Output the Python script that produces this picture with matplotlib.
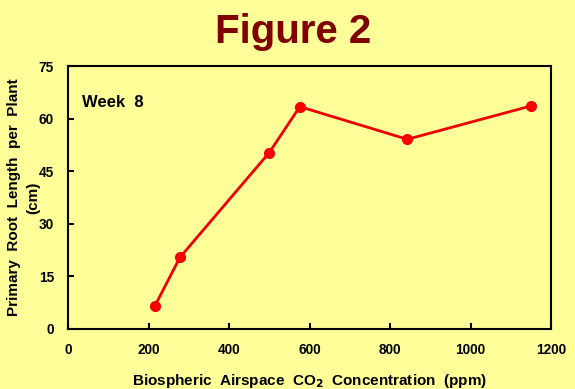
import matplotlib.pyplot as plt

plt.rcParams['font.family'] = ['Liberation Sans', 'DejaVu Sans']

# Data (week 8)
co2_ppm = [216, 278, 500, 576, 843, 1150]
root_length_cm = [6.6, 20.4, 50.3, 63.4, 54.1, 63.6]

x_ticks = [0, 200, 400, 600, 800, 1000, 1200]
y_ticks = [0, 15, 30, 45, 60, 75]

bg = '#FFFF99'

fig = plt.figure(figsize=(5.75, 3.89), dpi=100, facecolor=bg)
ax = fig.add_axes([68 / 575, 1 - 329 / 389, (551 - 68) / 575, (329 - 66) / 389])
ax.set_facecolor(bg)

ax.plot(co2_ppm, root_length_cm, color='#EE0000', lw=2, marker='o',
        markersize=7, markerfacecolor='#FF0000', markeredgecolor='#EE0000')

ax.set_xlim(0, 1200)
ax.set_ylim(0, 75)
ax.set_xticks(x_ticks)
ax.set_yticks(y_ticks)
ax.tick_params(direction='in', length=4, width=1.5, labelsize=9.8, pad=10, colors='black')
for lab in ax.get_xticklabels() + ax.get_yticklabels():
    lab.set_fontweight('bold')
for sp in ax.spines.values():
    sp.set_linewidth(1.5)

ax.set_xlabel('Biospheric  Airspace  CO$_\\mathbf{2}$  Concentration  (ppm)',
              fontsize=11, fontweight='bold', labelpad=11)
ax.set_ylabel('Primary  Root  Length  per  Plant\n(cm)', fontsize=11,
              fontweight='bold', linespacing=1.45)
ax.yaxis.set_label_coords(-0.058, 0.5)

ax.text(0.03, 0.86, 'Week  8', transform=ax.transAxes, fontsize=12,
        fontweight='bold', va='center')

fig.text(0.51, 0.918, 'Figure 2', ha='center', va='center', fontsize=29,
         fontweight='bold', color='#800000')

fig.savefig('out.png', dpi=100, facecolor=bg)
